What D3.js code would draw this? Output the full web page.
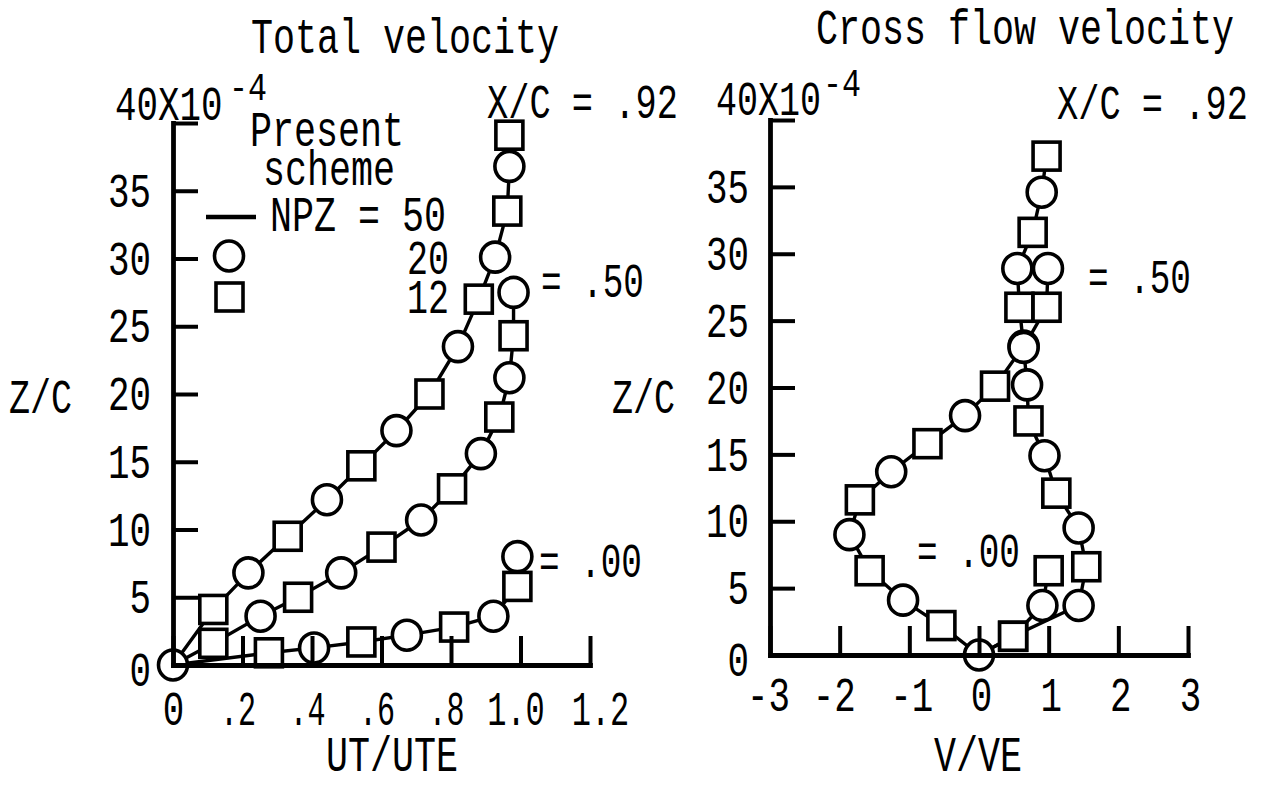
<!DOCTYPE html>
<html>
<head>
<meta charset="utf-8">
<script src="https://cdn.jsdelivr.net/npm/d3@7"></script>
<style>
  html, body { margin: 0; padding: 0; background: #fff; }
  svg { display: block; }
</style>
</head>
<body>
<svg id="chart" width="1268" height="787"></svg>
<script>
// ---------------- DATA ----------------
// Total velocity (UT/UTE vs Z/C x 1e-4)
const leftXTicks = [0, 0.2, 0.4, 0.6, 0.8, 1.0, 1.2];
const leftXTickLabels = ["0", ".2", ".4", ".6", ".8", "1.0", "1.2"];
const yTicks = [0, 5, 10, 15, 20, 25, 30, 35, 40];
const yTickLabels = ["0", "5", "10", "15", "20", "25", "30", "35", ""];

// X/C = .92
const tot92Circles = [[0, 0], [0.217, 6.8], [0.443, 12.2], [0.643, 17.3], [0.82, 23.5], [0.927, 30.1], [0.968, 36.8]];
const tot92Squares = [[0.116, 4.1], [0.33, 9.5], [0.542, 14.7], [0.738, 20.0], [0.88, 27.0], [0.962, 33.5], [0.968, 39.1]];
// X/C = .50
const tot50Circles = [[0.252, 3.6], [0.484, 6.8], [0.714, 10.7], [0.886, 15.6], [0.968, 21.2], [0.98, 27.5]];
const tot50Squares = [[0.116, 1.6], [0.36, 5.0], [0.60, 8.7], [0.803, 13.0], [0.939, 18.3], [0.98, 24.3]];
// X/C = .00
const tot00Circles = [[0.406, 1.26], [0.673, 2.2], [0.922, 3.6], [0.991, 8.0]];
const tot00Squares = [[0.276, 0.9], [0.542, 1.7], [0.809, 2.8], [0.991, 5.8]];

// Cross flow velocity (V/VE vs Z/C x 1e-4)
const rightXTicks = [-3, -2, -1, 0, 1, 2, 3];
const rightXTickLabels = ["-3", "-2", "-1", "0", "1", "2", "3"];
// X/C = .92
const crs92Circles = [[0, 0], [-1.09, 4.1], [-1.86, 9.0], [-1.26, 13.7], [-0.2, 17.9], [0.64, 23.1], [0.55, 28.9], [0.90, 34.6]];
const crs92Squares = [[-0.54, 2.2], [-1.57, 6.3], [-1.71, 11.6], [-0.74, 15.8], [0.23, 20.1], [0.58, 26.0], [0.77, 31.6], [0.97, 37.3]];
// X/C = .50
const crs50Circles = [[1.43, 3.7], [1.43, 9.5], [0.94, 14.9], [0.69, 20.2], [0.64, 23.0], [0.99, 28.9]];
const crs50Squares = [[0.49, 1.4], [1.54, 6.6], [1.11, 12.1], [0.71, 17.5], [0.97, 26.0]];
// X/C = .00
const crs00Circles = [[0.91, 3.7]];
const crs00Squares = [[0.49, 1.4], [1.0, 6.3]];

// ---------------- DRAWING ----------------
const svg = d3.select("#chart");
const FONT = "'Liberation Mono', 'DejaVu Sans Mono', monospace";
const FS = 49;
const CW = 22;

function textWidth(s, cw) {
  const c = cw || CW;
  let w = 0;
  for (const ch of s) w += (ch === "." ? c * 0.68 : c);
  return w;
}

// horizontally condense a text element around its anchor point (ax, ay)
function condense(node, target, ax, ay) {
  const w = node.getComputedTextLength();
  const sx = w > 0 ? target / w : 1;
  node.setAttribute("transform",
    `translate(${ax},${ay}) scale(${sx},1) translate(${-ax},${-ay})`);
}

function label(g, s, x, y, anchor, size, cw) {
  const t = g.append("text")
    .attr("x", x).attr("y", y)
    .attr("font-family", FONT)
    .attr("font-size", size || FS)
    .attr("text-anchor", anchor || "start")
    .attr("fill", "#000")
    .text(s);
  condense(t.node(), textWidth(s, cw), x, y);
  return t;
}

function curve(circles, squares) {
  return [[0, 0]].concat(circles, squares)
    .filter((d, i, a) => a.findIndex(e => e[0] === d[0] && e[1] === d[1]) === i)
    .sort((a, b) => a[1] - b[1]);
}

function drawPanel(cfg) {
  const g = svg.append("g");
  const x = cfg.x, y = cfg.y;
  const line = d3.line().x(d => x(d[0])).y(d => y(d[1]));

  cfg.series.forEach(s => {
    g.append("path").attr("d", line(curve(s.c, s.s)))
      .attr("fill", "none").attr("stroke", "#000").attr("stroke-width", 3.4)
      .attr("stroke-linejoin", "round");
  });
  cfg.series.forEach(s => {
    g.selectAll(null).data(s.s).enter().append("rect")
      .attr("x", d => x(d[0]) - 13.5).attr("y", d => y(d[1]) - 14)
      .attr("width", 27).attr("height", 28)
      .attr("fill", "#fff").attr("stroke", "#000").attr("stroke-width", 3.6);
    g.selectAll(null).data(s.c).enter().append("ellipse")
      .attr("cx", d => x(d[0])).attr("cy", d => y(d[1]))
      .attr("rx", 14.5).attr("ry", 15)
      .attr("fill", "#fff").attr("stroke", "#000").attr("stroke-width", 3.6);
  });

  // axes
  const ax = g.append("g").attr("transform", `translate(0,${y(0)})`)
    .call(d3.axisBottom(x).tickValues(cfg.xTicks)
      .tickFormat((d, i) => cfg.xLabels[i]).tickSize(-29).tickSizeOuter(0).tickPadding(cfg.xPad));
  const ay = g.append("g").attr("transform", `translate(${x.range()[0]},0)`)
    .call(d3.axisLeft(y).tickValues(yTicks)
      .tickFormat((d, i) => yTickLabels[i]).tickSize(-25).tickSizeOuter(0).tickPadding(cfg.yPad));
  ay.selectAll(".tick").filter(d => d === 0).select("text").attr("dy", "0.42em");
  [ax, ay].forEach(a => {
    a.attr("font-family", FONT).attr("font-size", FS);
    a.select(".domain").attr("stroke", "#000").attr("stroke-width", 4.8).attr("stroke-linecap", "square");
    a.selectAll(".tick line").attr("stroke", "#000").attr("stroke-width", 4);
    a.selectAll(".tick text").attr("fill", "#000");
  });
  ax.selectAll(".tick text").each(function (d, i) {
    const sh = cfg.xShift ? cfg.xShift(i) : 0;
    this.setAttribute("x", sh);
    if (this.textContent.length) condense(this, textWidth(this.textContent, 21.5), sh, 0);
  });
  ay.selectAll(".tick text").each(function () {
    const x0 = +this.getAttribute("x");
    if (this.textContent.length) condense(this, textWidth(this.textContent, 21.5), x0, 0);
  });
  return g;
}

const xL = d3.scaleLinear().domain([0, 1.2]).range([173, 590]);
const yL = d3.scaleLinear().domain([0, 40]).range([665, 123]);
const xR = d3.scaleLinear().domain([-3, 3]).range([770, 1188]);
const yR = d3.scaleLinear().domain([0, 40]).range([655, 120]);

const gL = drawPanel({
  x: xL, y: yL, xTicks: leftXTicks, xLabels: leftXTickLabels, xPad: 25, yPad: 22,
  xShift: i => (i === 0 ? 0 : i === 6 ? 10 : -5),
  series: [
    { c: tot92Circles, s: tot92Squares },
    { c: tot50Circles, s: tot50Squares },
    { c: tot00Circles, s: tot00Squares }
  ]
});
const gR = drawPanel({
  x: xR, y: yR, xTicks: rightXTicks, xLabels: rightXTickLabels, xPad: 21, yPad: 21,
  xShift: i => (i === 1 ? -6 : i === 0 ? -2 : 2),
  series: [
    { c: crs92Circles, s: crs92Squares },
    { c: crs50Circles, s: crs50Squares },
    { c: crs00Circles, s: crs00Squares }
  ]
});

// ---------- texts: left panel ----------
label(gL, "Total velocity", 405, 53, "middle");
label(gL, "40X10", 115, 120, "start", FS, 21.5);
label(gL, "-4", 229, 100, "start", 38, 19);
label(gL, "Present", 327, 146, "middle");
label(gL, "scheme", 329, 185, "middle");
gL.append("line").attr("x1", 206).attr("x2", 256).attr("y1", 217).attr("y2", 217)
  .attr("stroke", "#000").attr("stroke-width", 4.5);
label(gL, "NPZ = 50", 270, 231, "start");
gL.append("ellipse").attr("cx", 229).attr("cy", 256).attr("rx", 14.5).attr("ry", 15)
  .attr("fill", "#fff").attr("stroke", "#000").attr("stroke-width", 3.6);
gL.append("rect").attr("x", 216).attr("y", 283).attr("width", 27).attr("height", 28)
  .attr("fill", "#fff").attr("stroke", "#000").attr("stroke-width", 3.6);
label(gL, "20", 449, 274, "end", FS, 21);
label(gL, "12", 449, 313, "end", FS, 21);
label(gL, "X/C = .92", 487, 118, "start");
label(gL, "= .50", 541, 297, "start");
label(gL, "= .00", 539, 577, "start");
label(gL, "Z/C", 9, 413, "start", FS, 21);
label(gL, "UT/UTE", 392, 771, "middle");

// ---------- texts: right panel ----------
label(gR, "Cross flow velocity", 1025, 44, "middle");
label(gR, "40X10", 716, 115, "start", FS, 21);
label(gR, "-4", 823, 96, "start", 38, 19);
label(gR, "X/C = .92", 1057, 119, "start");
label(gR, "= .50", 1088, 293, "start");
label(gR, "= .00", 917, 567, "start");
label(gR, "Z/C", 612, 413, "start", FS, 21);
label(gR, "V/VE", 978, 771, "middle");
</script>
</body>
</html>
